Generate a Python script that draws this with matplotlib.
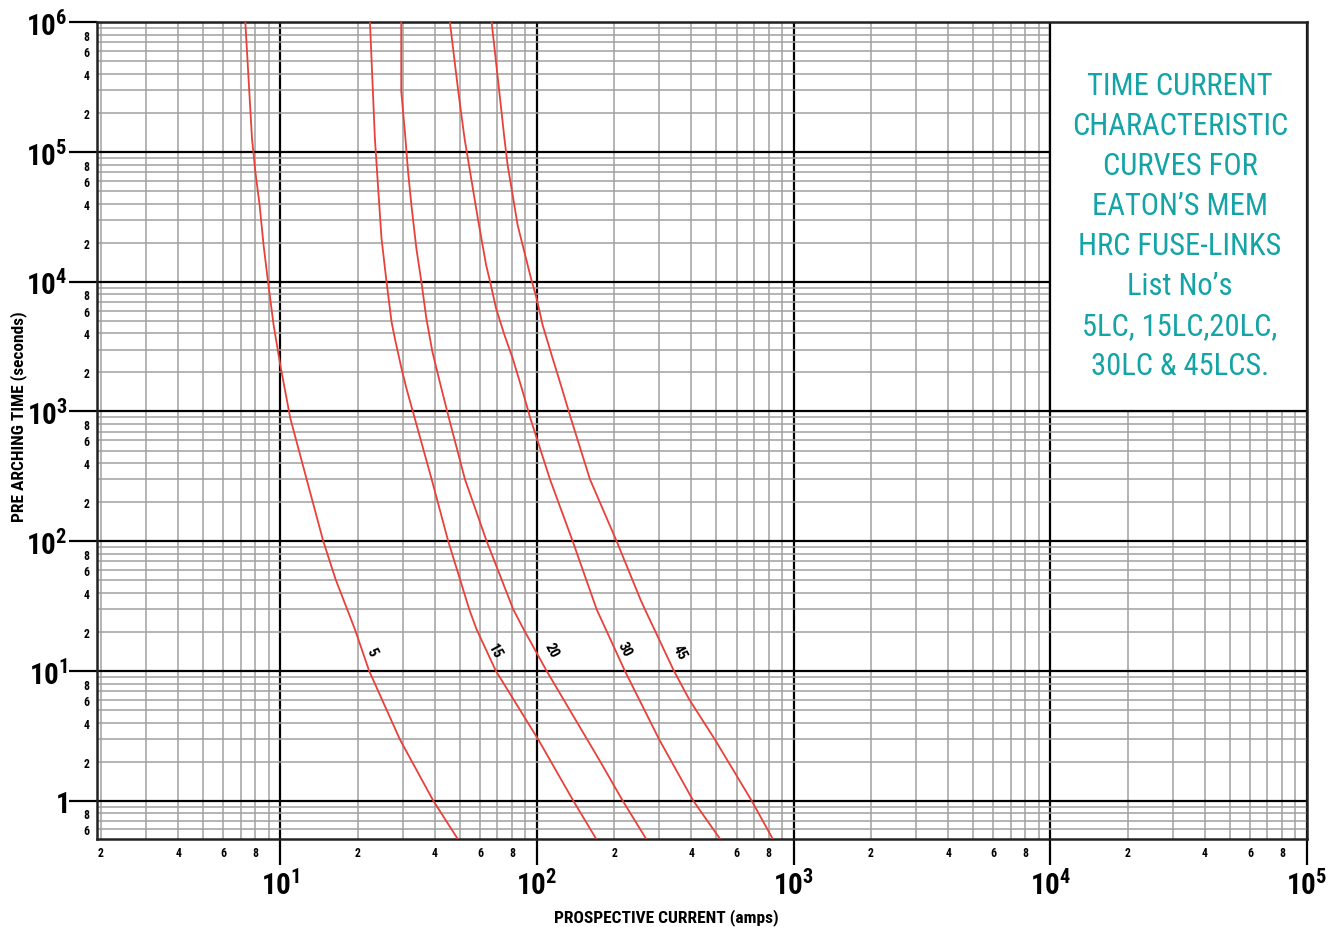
import matplotlib
matplotlib.use("Agg")
import matplotlib.pyplot as plt
import matplotlib.ticker as mticker
from matplotlib import font_manager as fm
from matplotlib.patches import Rectangle
import numpy as np

# ---------------- data ----------------
c5_t = [1e6, 127000, 70150, 38900, 19140, 1e4, 4645, 2286, 889, 300, 100, 50.7, 20.9, 10, 2.96, 1, 0.5]
c5_i = [7.31, 7.76, 8.0, 8.31, 8.61, 8.96, 9.42, 10.0, 10.94, 12.67, 14.71, 16.44, 19.54, 22.2, 29.26, 39.45, 49.36]

c15_t = [1e6, 127000, 52200, 21530, 1e4, 4920, 3664, 2153, 1510, 889, 300, 100, 29.8, 20.9, 10, 2.96, 1, 0.5]
c15_i = [22.36, 23.37, 24.07, 24.8, 25.94, 27.13, 27.95, 29.66, 31.0, 33.4, 38.89, 45.12, 54.5, 58.2, 69.2, 101.2, 138.5, 170.9]

c20_t = [1e6, 2.95e5, 127000, 70150, 38900, 18030, 1e4, 5224, 2897, 1702, 889, 300, 100, 29.8, 20.9, 10, 2.02, 1, 0.5]
c20_i = [29.6, 29.6, 30.74, 31.48, 32.43, 33.91, 35.46, 37.08, 39.13, 41.78, 45.4, 52.43, 63.7, 80.86, 88.8, 109.1, 176.0, 215.8, 267.6]

c30_t = [1e6, 2.95e5, 127000, 62370, 30690, 13430, 1e4, 6237, 3890, 2570, 1426, 889, 300, 100, 29.8, 10, 2.96, 1, 0.5]
c30_i = [45.81, 49.36, 52.24, 55.45, 58.85, 63.4, 65.7, 69.3, 74.7, 80.45, 88.0, 94.2, 112.4, 137.8, 170.9, 220.1, 299.5, 406.3, 519.5]

c45_t = [1e6, 2.95e5, 127000, 78890, 46450, 27290, 17020, 10620, 7450, 4645, 2570, 1603, 889, 300, 100, 35.6, 29.8, 10, 6.03, 2.96, 1, 0.5]
c45_i = [66.6, 71.3, 74.7, 76.9, 80.45, 84.1, 89.3, 94.8, 99.7, 105.2, 115.1, 123.9, 135.5, 160.9, 204.4, 253.0, 263.5, 341.8, 392.0, 493.6, 686.0, 832.6]

curve_names = ["5", "15", "20", "30", "45"]
label_x = [22.66, 68.6, 114.1, 220.1, 360.6]
label_y = [14.1, 14.3, 14.5, 14.8, 14.1]

title_lines = ["TIME CURRENT", "CHARACTERISTIC", "CURVES FOR", "EATON\u2019S MEM",
               "HRC FUSE-LINKS", "List No\u2019s", "5LC, 15LC,20LC,", "30LC & 45LCS."]

xlabel = "PROSPECTIVE CURRENT (amps)"
ylabel = "PRE ARCHING TIME (seconds)"

# ---------------- fonts ----------------
names = {f.name for f in fm.fontManager.ttflist}
cond = "DejaVu Sans"
for cand in ["Liberation Sans Narrow", "Roboto Condensed", "Open Sans Condensed", "DejaVu Sans"]:
    if cand in names:
        cond = cand
        break

plt.rcParams["font.family"] = [cond, "DejaVu Sans"]
plt.rcParams["mathtext.fontset"] = "custom"
plt.rcParams["mathtext.rm"] = cond + ":bold"
plt.rcParams["mathtext.it"] = cond + ":bold"
plt.rcParams["mathtext.bf"] = cond + ":bold"

fig = plt.figure(figsize=(13.34, 9.28), dpi=100)
ax = fig.add_axes([0.07249, 0.09483, 0.97976 - 0.07249, 0.97489 - 0.09483])
ax.set_xscale("log")
ax.set_yscale("log")
XLIM = (1.927, 1e5)
YLIM = (0.5066, 1e6)
ax.set_xlim(*XLIM)
ax.set_ylim(*YLIM)

# ticks
ax.xaxis.set_major_locator(mticker.LogLocator(base=10, numticks=20))
ax.xaxis.set_minor_locator(mticker.LogLocator(base=10, subs=np.arange(2, 10), numticks=20))
ax.yaxis.set_major_locator(mticker.LogLocator(base=10, numticks=20))
ax.yaxis.set_minor_locator(mticker.LogLocator(base=10, subs=np.arange(2, 10), numticks=20))


def make_major_fmt(lo, hi):
    def fmt(v, pos):
        if v < lo * 0.999 or v > hi * 1.001:
            return ""
        e = int(round(np.log10(v)))
        if e == 0:
            return r"$\mathbf{1}$"
        return r"$\mathbf{10}^{\mathbf{%d}}$" % e
    return fmt


def make_minor_fmt(lo, hi):
    def fmt(v, pos):
        if v < lo or v > hi:
            return ""
        e = np.floor(np.log10(v) + 1e-9)
        m = int(round(v / 10 ** e))
        return str(m) if m in (2, 4, 6, 8) else ""
    return fmt


ax.xaxis.set_major_formatter(mticker.FuncFormatter(make_major_fmt(*XLIM)))
ax.yaxis.set_major_formatter(mticker.FuncFormatter(make_major_fmt(*YLIM)))
ax.xaxis.set_minor_formatter(mticker.FuncFormatter(make_minor_fmt(*XLIM)))
ax.yaxis.set_minor_formatter(mticker.FuncFormatter(make_minor_fmt(*YLIM)))

ax.tick_params(axis="x", which="major", length=19, width=1.6, color="black",
               direction="out", pad=3, labelsize=21)
ax.tick_params(axis="y", which="major", length=20, width=1.6, color="black",
               direction="out", pad=1, labelsize=21)
ax.tick_params(axis="both", which="minor", length=0, labelsize=8.5, pad=5)
for lab in ax.get_xticklabels(minor=True) + ax.get_yticklabels(minor=True):
    lab.set_fontweight("bold")

ax.grid(which="major", color="black", linewidth=1.6)
ax.grid(which="minor", color="#a0a0a0", linewidth=1.1)
ax.set_axisbelow(True)

for s in ax.spines.values():
    s.set_linewidth(1.8)
    s.set_color("#222222")

# curves
red = "#e8413a"
for xs, ys in [(c5_i, c5_t), (c15_i, c15_t), (c20_i, c20_t), (c30_i, c30_t), (c45_i, c45_t)]:
    ax.plot(xs, ys, color=red, linewidth=1.3, zorder=3)

for name, lx, ly in zip(curve_names, label_x, label_y):
    ax.text(lx, ly, name, rotation=-62, ha="center", va="center", fontsize=10.5,
            fontweight="bold", color="black", zorder=4)

# title box
ax.add_patch(Rectangle((1e4, 1e3), 1e5 - 1e4, 1e6 - 1e3, facecolor="white",
                       edgecolor="black", linewidth=1.6, zorder=2))
for i, line in enumerate(title_lines):
    ax.text(0.895, 0.9230 - i * 0.04898, line, transform=ax.transAxes, ha="center",
            va="center", fontsize=22, color="#14a3a6", zorder=5)

fig.text(666 / 1334, 1 - 918 / 928, xlabel, ha="center", va="center", fontsize=12.5,
         fontweight="bold")
fig.text(19 / 1334, 1 - 417 / 928, ylabel, ha="center", va="center", fontsize=12.5,
         fontweight="bold", rotation=90)

fig.savefig("out.png", dpi=100)
